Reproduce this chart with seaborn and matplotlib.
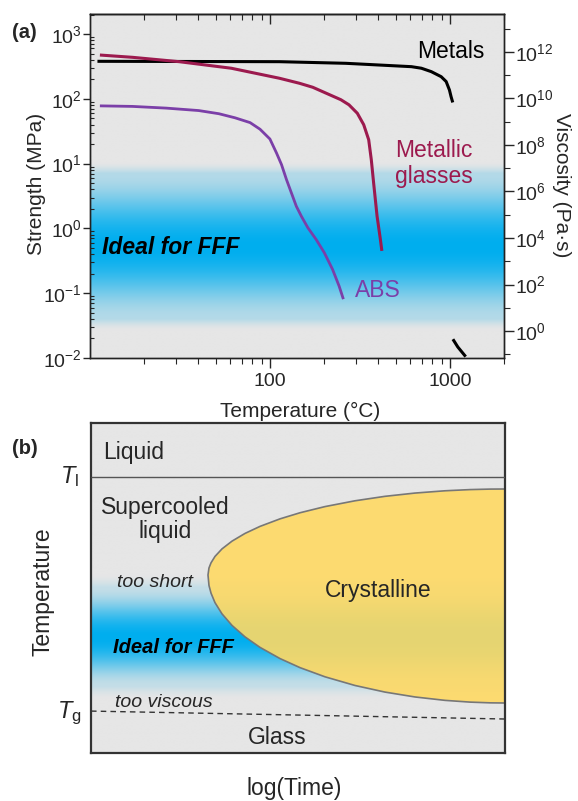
import numpy as np
import seaborn as sns
import matplotlib.pyplot as plt
from matplotlib import ticker
from matplotlib.patches import Polygon

# ---- panel (a): strength vs temperature ----
metals_T = [11, 113, 264, 612, 695, 789, 895, 954, 995, 1016, 1038]
metals_S = [380, 375, 354, 314, 297, 263, 220, 185, 137, 108, 88]
metals_tail_T = [1040, 1107, 1225]
metals_tail_S = [0.0195, 0.0148, 0.0105]

mg_T = [11.35, 17.2, 31.3, 61, 113, 146, 173, 248, 275, 306, 332, 354, 366, 377,
        394, 411, 419]
mg_S = [475, 438, 375, 297, 208, 174, 151, 97, 81, 60, 40, 23.4, 11.5, 5.05,
        1.55, 0.68, 0.45]

abs_T = [11.35, 17.2, 26.5, 40.2, 52, 64, 77.6, 88.1, 100, 108.8, 116, 123.6, 131.6,
         140.2, 149.4, 162.3, 180.5, 200.5, 222.8, 242.4, 256]
abs_S = [78, 76.5, 72, 66, 59, 51, 43, 34, 24, 14.6, 9.66, 5.68, 3.54,
         2.20, 1.55, 1.03, 0.678, 0.423, 0.234, 0.129, 0.081]

strength_ticks = [1e-2, 1e-1, 1e0, 1e1, 1e2, 1e3]
temp_ticks = [100, 1000]
temp_labels = ['100', '1000']
visc_ticks = [1e0, 1e2, 1e4, 1e6, 1e8, 1e10, 1e12]

# ---- panel (b): schematic TTT diagram (axes 0..1) ----
crys_time = [1.02, 1.0, 0.9638, 0.9155, 0.8551, 0.7826, 0.7101, 0.6377, 0.5652, 0.5048,
             0.4565, 0.4082, 0.3720, 0.3406, 0.3164, 0.2995, 0.2899, 0.2850, 0.2826]
crys_top_temp = [0.800, 0.800, 0.7997, 0.7982, 0.7946, 0.7877, 0.7778, 0.7643, 0.7467,
                 0.7280, 0.7095, 0.6867, 0.6654, 0.6420, 0.6185, 0.5957, 0.5763,
                 0.5608, 0.5394]
crys_bot_temp = [0.1515, 0.1515, 0.1520, 0.1542, 0.1595, 0.1698, 0.1846, 0.2046, 0.2309,
                 0.2587, 0.2862, 0.3201, 0.3519, 0.3866, 0.4217, 0.4556, 0.4844,
                 0.5076, 0.5394]
tl_level = 0.836
tg_time = [0.0, 1.0]
tg_level = [0.127, 0.103]

sns.set_style('ticks')
plt.rcParams['font.family'] = ['Liberation Sans', 'DejaVu Sans']
plt.rcParams['mathtext.fontset'] = 'custom'
plt.rcParams['mathtext.rm'] = 'Liberation Sans'
plt.rcParams['mathtext.it'] = 'Liberation Sans:italic'
plt.rcParams['mathtext.bf'] = 'Liberation Sans:bold'
plt.rcParams['lines.solid_joinstyle'] = 'round'
plt.rcParams['lines.solid_capstyle'] = 'butt'

GRAY = np.array([230, 230, 230]) / 255
CYAN = np.array([0, 174, 239]) / 255


def band(center, half, floor, tail=0.3, n=800):
    y = np.linspace(0, 1, n)
    d = np.abs(y - center) / half
    core = floor + (1 - floor) * np.clip(1 - d ** 2, 0, 1) ** 2
    soft = floor * np.clip(1 - (d - 1) / tail, 0, 1) ** 1.5
    t = np.where(d < 1, core, soft)
    return (GRAY[None, :] * (1 - t[:, None]) + CYAN[None, :] * t[:, None])[:, None, :]


fig = plt.figure(figsize=(5.78, 8.01), dpi=100)
ax = fig.add_axes([90 / 578, 1 - 358 / 801, 414 / 578, 344 / 801])
ax.set_xscale('log')
ax.set_yscale('log')
ax.set_xlim(10, 2000)
ax.set_ylim(0.01, 10 ** 3.31)
ax.autoscale(False)
ax.imshow(band(0.325, 0.212, 0.22, tail=0.15), origin='lower', extent=[0, 1, 0, 1],
          transform=ax.transAxes, aspect='auto', zorder=0, interpolation='bilinear')

sns.lineplot(x=metals_T, y=metals_S, ax=ax, color='black', lw=2.2, zorder=3)
sns.lineplot(x=metals_tail_T, y=metals_tail_S, ax=ax, color='black', lw=2.2, zorder=3)
sns.lineplot(x=mg_T, y=mg_S, ax=ax, color='#9C1A4E', lw=2.2, zorder=3)
sns.lineplot(x=abs_T, y=abs_S, ax=ax, color='#7B3FA8', lw=2.0, zorder=3)
ax.set_xlim(10, 2000)
ax.set_ylim(0.01, 10 ** 3.31)

ax.yaxis.set_major_locator(ticker.FixedLocator(strength_ticks))
ax.yaxis.set_major_formatter(ticker.LogFormatterSciNotation())
ax.yaxis.set_minor_locator(ticker.LogLocator(subs=np.arange(2, 10)))
ax.yaxis.set_minor_formatter(ticker.NullFormatter())
ax.xaxis.set_major_locator(ticker.FixedLocator(temp_ticks))
ax.xaxis.set_major_formatter(ticker.FixedFormatter(temp_labels))
ax.xaxis.set_minor_locator(ticker.LogLocator(subs=np.arange(2, 10)))
ax.xaxis.set_minor_formatter(ticker.NullFormatter())
ax.tick_params(axis='y', which='major', direction='out', length=5, width=1, labelsize=14, pad=1)
ax.tick_params(axis='y', which='minor', direction='in', length=3, width=0.8)
ax.tick_params(axis='x', which='major', direction='out', length=7, width=1, labelsize=14, pad=4)
ax.tick_params(axis='x', which='minor', direction='out', length=4, width=0.8)
for s in ax.spines.values():
    s.set_linewidth(1.0)
    s.set_color('#222222')

top = ax.secondary_xaxis('top')
top.xaxis.set_major_locator(ticker.FixedLocator(temp_ticks))
top.xaxis.set_minor_locator(ticker.LogLocator(subs=np.arange(2, 10)))
top.tick_params(which='both', direction='in', labeltop=False)
top.tick_params(which='major', length=7, width=1)
top.tick_params(which='minor', length=4, width=0.8)
top.spines['top'].set_linewidth(1.0)

axr = ax.twinx()
axr.set_yscale('log')
axr.set_ylim(10 ** -1.16, 10 ** 13.63)
axr.yaxis.set_major_locator(ticker.FixedLocator(visc_ticks))
axr.yaxis.set_major_formatter(ticker.LogFormatterSciNotation())
axr.yaxis.set_minor_locator(ticker.FixedLocator([10.0 ** k for k in range(-1, 14, 2)]))
axr.yaxis.set_minor_formatter(ticker.NullFormatter())
axr.tick_params(axis='y', which='major', direction='out', length=7, width=1, labelsize=14, pad=1)
axr.tick_params(axis='y', which='minor', direction='out', length=4, width=0.8)
for s in axr.spines.values():
    s.set_linewidth(1.0)
    s.set_color('#222222')

ax.set_ylabel('Strength (MPa)', fontsize=15, va='center')
ax.yaxis.set_label_coords((37 - 90) / 414, (358 - 184) / 344)
axr.set_ylabel('Viscosity (Pa·s)', fontsize=15, rotation=270, va='center')
axr.yaxis.set_label_coords((562 - 90) / 414, (358 - 185) / 344)
ax.set_xlabel('Temperature (°C)', fontsize=15, va='center')
ax.xaxis.set_label_coords((300 - 90) / 414, (358 - 411) / 344)

ax.text(0.954, 0.872, 'Metals', transform=ax.transAxes, ha='right', va='baseline',
        fontsize=16.5, color='black')
ax.text(0.737, 0.584, 'Metallic', transform=ax.transAxes, ha='left', va='baseline',
        fontsize=16.5, color='#9C1A4E')
ax.text(0.737, 0.509, 'glasses', transform=ax.transAxes, ha='left', va='baseline',
        fontsize=16.5, color='#9C1A4E')
ax.text(0.640, 0.177, 'ABS', transform=ax.transAxes, ha='left', va='baseline',
        fontsize=16.5, color='#7B3FA8')
ax.text(0.029, 0.302, 'Ideal for FFF', transform=ax.transAxes, ha='left', va='baseline',
        fontsize=16.5, fontweight='bold', fontstyle='italic', color='black')

# ---- panel (b) ----
bx = fig.add_axes([91 / 578, 1 - 753 / 801, 414 / 578, 330 / 801])
bx.set_xlim(0, 1)
bx.set_ylim(0, 1)
bx.autoscale(False)
bx.imshow(band(0.352, 0.150, 0.15, tail=0.25), origin='lower', extent=[0, 1, 0, 1],
          aspect='auto', zorder=0, interpolation='bilinear')
crys_xy = np.column_stack([crys_time + crys_time[::-1][1:],
                           crys_top_temp + crys_bot_temp[::-1][1:]])
bx.add_patch(Polygon(crys_xy, closed=True, facecolor=(1.0, 0.85, 0.39, 0.9),
                     edgecolor='#777777', lw=1.2, joinstyle='round', zorder=2))
bx.axhline(tl_level, color='#555555', lw=1.0, zorder=3)
sns.lineplot(x=tg_time, y=tg_level, ax=bx, color='#333333', lw=1.0, linestyle=(0, (4, 3)), zorder=3)
bx.set_xlim(0, 1)
bx.set_ylim(0, 1)
bx.set_xticks([])
bx.set_yticks([])
for s in bx.spines.values():
    s.set_linewidth(1.6)
    s.set_color('#333333')

bx.set_ylabel('Temperature', fontsize=16.5, va='center')
bx.yaxis.set_label_coords((43 - 91) / 414, 0.49)
bx.set_xlabel('log(Time)', fontsize=16.5, va='center')
bx.xaxis.set_label_coords(0.49, (753 - 788) / 330)

kw = dict(transform=bx.transAxes, va='baseline', zorder=5)
bx.text(0.029, 0.891, 'Liquid', ha='left', fontsize=16.5, **kw)
bx.text(0.179, 0.724, 'Supercooled', ha='center', fontsize=16.5, **kw)
bx.text(0.179, 0.652, 'liquid', ha='center', fontsize=16.5, **kw)
bx.text(0.063, 0.503, 'too short', ha='left', fontsize=14, fontstyle='italic', **kw)
bx.text(0.693, 0.473, 'Crystalline', ha='center', fontsize=16.5, **kw)
bx.text(0.053, 0.303, 'Ideal for FFF', ha='left', fontsize=14.5, fontweight='bold',
        fontstyle='italic', color='black', **kw)
bx.text(0.058, 0.139, 'too viscous', ha='left', fontsize=14, fontstyle='italic', **kw)
bx.text(0.449, 0.027, 'Glass', ha='center', fontsize=16.5, **kw)
bx.text((60 - 91) / 414, 0.818, r'$T_\mathrm{l}$', transform=bx.transAxes, ha='left',
        va='baseline', fontsize=17)
bx.text((57 - 91) / 414, 0.106, r'$T_\mathrm{g}$', transform=bx.transAxes, ha='left',
        va='baseline', fontsize=17)

fig.text(12 / 578, 1 - 32 / 801, '(a)', ha='left', va='center', fontsize=14.5, fontweight='bold')
fig.text(12 / 578, 1 - 448 / 801, '(b)', ha='left', va='center', fontsize=14.5, fontweight='bold')

fig.savefig('out.png', dpi=100)
